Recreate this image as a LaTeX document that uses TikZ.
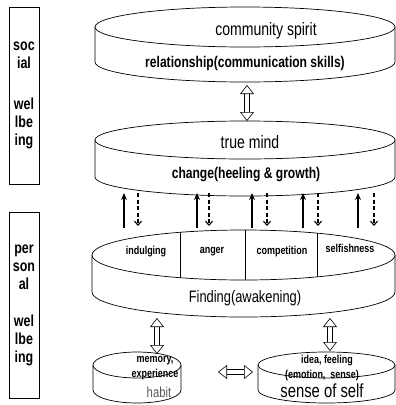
\documentclass[tikz,border=0pt]{standalone}
\usepackage{fontspec}
\setmainfont{Liberation Sans}[FakeStretch=0.78]
\usetikzlibrary{arrows.meta,positioning}

\begin{document}
\begin{tikzpicture}[x=1pt,y=-1pt,
    cyl/.style={draw,fill=white,line width=0.7pt},
    side/.style={draw,line width=0.9pt,minimum width=30pt,align=center,inner sep=0pt,
      font=\fontsize{16}{18}\selectfont\bfseries},
    big/.style={font=\fontsize{18}{20}\selectfont,inner sep=0pt},
    bigb/.style={font=\fontsize{15.5}{18}\selectfont\bfseries,inner sep=0pt},
    small/.style={font=\fontsize{11.5}{13}\selectfont\bfseries,inner sep=0pt},
    hollow/.style={double,double distance=4.5pt,line width=0.6pt,
      {Triangle[fill=white,length=9pt,width=14pt,line width=0.6pt]}-{Triangle[fill=white,length=9pt,width=14pt,line width=0.6pt]}},
    up/.style={line width=1.4pt,-{Stealth[length=7pt,width=6pt]}},
    down/.style={line width=1.1pt,dash pattern=on 4pt off 2.5pt,-{Straight Barb[length=4pt,width=7pt]}}]

    \useasboundingbox (0,0) rectangle (396,405);

    \node [side,minimum height=177pt] (social) at (24,95.5) {soc\\ial\\[23pt]wel\\lbe\\ing};
    \node [side,minimum height=186pt] (personal) at (24,305) {per\\son\\al\\[19pt]wel\\lbe\\ing};

    % relationship
    \draw [cyl] (95,27) -- (95,62) arc[start angle=180,end angle=360,x radius=150pt,y radius=20pt] -- (395,27);
    \draw [cyl] (245,27) ellipse [x radius=150pt,y radius=20pt];
    \node [big] (spirit) at (266,31) {community spirit};
    \node [bigb] (relation) at (245,63) {relationship(communication skills)};

    % change
    \draw [cyl] (95,140) -- (95,177) arc[start angle=180,end angle=360,x radius=150pt,y radius=19pt] -- (395,140);
    \draw [cyl] (245,140) ellipse [x radius=150pt,y radius=19pt];
    \node [big] (mind) at (250,142) {true mind};
    \node [bigb] (change) at (246,175) {change(heeling \& growth)};

    % finding
    \draw [cyl] (92,255) -- (92,292) arc[start angle=180,end angle=360,x radius=151.5pt,y radius=25pt] -- (395,255);
    \draw [cyl] (243.5,255) ellipse [x radius=151.5pt,y radius=25pt];
    \begin{scope}
        \clip (243.5,255) ellipse [x radius=151.5pt,y radius=25pt];
        \draw [line width=0.7pt] (180,220) -- (180,290) (245,220) -- (245,290) (317,220) -- (317,290);
    \end{scope}
    \node [small] (indulging) at (146,252) {indulging};
    \node [small] (anger) at (212,252) {anger};
    \node [small] (competition) at (282,252) {competition};
    \node [small] (selfishness) at (350,248) {selfishness};
    \node [big,font=\fontsize{16.5}{18}\selectfont] (finding) at (245,298) {Finding(awakening)};

    % habit and sense of self
    \draw [cyl] (93,365) -- (93,390) arc[start angle=180,end angle=360,x radius=44pt,y radius=13pt] -- (181,365);
    \draw [cyl] (137,365) ellipse [x radius=44pt,y radius=13pt];
    \node [small] (memory) at (155,361) {memory,};
    \node [small] (experience) at (155,375) {experience};
    \node [big,font=\fontsize{14.5}{16}\selectfont,text=black!65] (habit) at (159,392) {habit};

    \draw [cyl] (258,365) -- (258,390) arc[start angle=180,end angle=360,x radius=68.5pt,y radius=13pt] -- (395,365);
    \draw [cyl] (326.5,365) ellipse [x radius=68.5pt,y radius=13pt];
    \node [small] (idea) at (327,361) {idea, feeling};
    \node [small] (emotion) at (322,376) {(emotion,\ \ sense)};
    \node [big,font=\fontsize{19}{20}\selectfont] (sense) at (322,391) {sense of self};

    % hollow arrows
    \coordinate (relB) at (247,85);    \coordinate (mindT) at (247,121);
    \coordinate (findL) at (157,318);  \coordinate (habitT) at (157,354);
    \coordinate (findR) at (330,318);  \coordinate (selfT) at (330,351);
    \coordinate (habitR) at (218,372); \coordinate (selfL) at (253,372);
    \draw [hollow] (relB) -- (mindT);
    \draw [hollow] (findL) -- (habitT);
    \draw [hollow] (findR) -- (selfT);
    \draw [hollow] (habitR) -- (selfL);

    % up and down
    \coordinate (lo1) at (124,228); \coordinate (hi1) at (124,193);
    \coordinate (lo2) at (197,228); \coordinate (hi2) at (197,193);
    \coordinate (lo3) at (252,228); \coordinate (hi3) at (252,193);
    \coordinate (lo4) at (303,228); \coordinate (hi4) at (303,193);
    \coordinate (lo5) at (358,228); \coordinate (hi5) at (358,193);
    \coordinate (dt1) at (138,193); \coordinate (db1) at (138,226);
    \coordinate (dt2) at (209,193); \coordinate (db2) at (209,226);
    \coordinate (dt3) at (267,193); \coordinate (db3) at (267,226);
    \coordinate (dt4) at (318,193); \coordinate (db4) at (318,226);
    \coordinate (dt5) at (374,193); \coordinate (db5) at (374,226);
    \draw [up] (lo1) -- (hi1);  \draw [down] (dt1) -- (db1);
    \draw [up] (lo2) -- (hi2);  \draw [down] (dt2) -- (db2);
    \draw [up] (lo3) -- (hi3);  \draw [down] (dt3) -- (db3);
    \draw [up] (lo4) -- (hi4);  \draw [down] (dt4) -- (db4);
    \draw [up] (lo5) -- (hi5);  \draw [down] (dt5) -- (db5);
\end{tikzpicture}
\end{document}
